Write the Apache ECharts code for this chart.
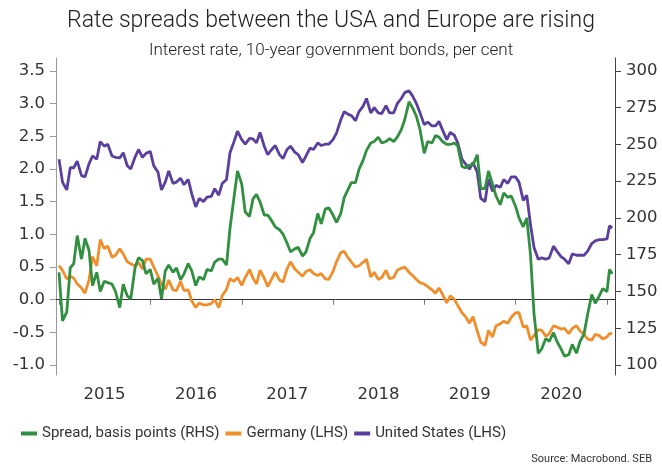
<!DOCTYPE html>
<html>
<head>
<meta charset="utf-8">
<script src="https://cdn.jsdelivr.net/npm/echarts@6/dist/echarts.min.js"></script>
<style>
  html, body { margin: 0; padding: 0; background: #fff; }
  #chart { width: 662px; height: 466px; }
</style>
</head>
<body>
<div id="chart"></div>
<script>
// half-monthly samples (1st and 15th), Jan 2015 - Dec 2020, plus Jan 2021
const yearsSampled = [2015, 2016, 2017, 2018, 2019, 2020];
const tailDates = ['2021-01-01', '2021-01-11', '2021-01-22'];

// 10y US government bond, per cent (LHS)
const unitedStates = [
  2.15, 1.80, 1.68, 2.02, 2.02, 2.12, 1.90, 1.88, 2.08, 2.20, 2.15, 2.42, 2.35, 2.38, 2.20, 2.18, 2.17, 2.25, 2.05, 2.00, 2.18, 2.30, 2.18, 2.24,
  2.27, 2.05, 1.95, 1.68, 1.80, 1.97, 1.78, 1.80, 1.86, 1.76, 1.84, 1.62, 1.42, 1.55, 1.50, 1.57, 1.58, 1.70, 1.60, 1.78, 1.84, 2.25, 2.42, 2.58,
  2.45, 2.38, 2.47, 2.46, 2.40, 2.56, 2.35, 2.22, 2.30, 2.36, 2.22, 2.16, 2.30, 2.35, 2.26, 2.22, 2.10, 2.20, 2.32, 2.30, 2.40, 2.36, 2.38, 2.38,
  2.45, 2.55, 2.75, 2.88, 2.84, 2.82, 2.74, 2.88, 2.96, 3.08, 2.86, 2.94, 2.86, 2.85, 2.97, 2.86, 2.86, 3.00, 3.08, 3.17, 3.20, 3.12, 3.00, 2.86,
  2.68, 2.72, 2.66, 2.66, 2.73, 2.60, 2.45, 2.56, 2.52, 2.40, 2.15, 2.08, 2.00, 2.10, 1.95, 1.55, 1.50, 1.85, 1.66, 1.75, 1.72, 1.84, 1.78, 1.88,
  1.88, 1.80, 1.52, 1.60, 1.15, 0.80, 0.62, 0.64, 0.62, 0.64, 0.82, 0.74, 0.66, 0.62, 0.55, 0.70, 0.68, 0.68, 0.68, 0.74, 0.86, 0.90, 0.92, 0.92,
  0.93, 1.13, 1.10,
];

// 10y German government bond, per cent (LHS)
const germany = [
  0.52, 0.45, 0.32, 0.36, 0.33, 0.24, 0.18, 0.10, 0.30, 0.66, 0.52, 0.92, 0.78, 0.82, 0.65, 0.68, 0.78, 0.70, 0.58, 0.55, 0.52, 0.57, 0.47, 0.62,
  0.62, 0.50, 0.36, 0.24, 0.16, 0.30, 0.15, 0.14, 0.28, 0.14, 0.15, -0.02, -0.12, -0.05, -0.08, -0.08, -0.06, 0.00, -0.12, 0.06, 0.16, 0.32, 0.28, 0.34,
  0.22, 0.34, 0.46, 0.33, 0.24, 0.45, 0.33, 0.20, 0.32, 0.42, 0.30, 0.27, 0.47, 0.58, 0.47, 0.42, 0.36, 0.43, 0.46, 0.40, 0.37, 0.40, 0.32, 0.31,
  0.43, 0.58, 0.72, 0.74, 0.65, 0.58, 0.50, 0.52, 0.57, 0.62, 0.35, 0.42, 0.31, 0.34, 0.45, 0.32, 0.34, 0.45, 0.48, 0.50, 0.42, 0.37, 0.31, 0.26,
  0.24, 0.20, 0.15, 0.10, 0.18, 0.08, -0.05, 0.06, 0.01, -0.09, -0.20, -0.26, -0.36, -0.26, -0.48, -0.65, -0.70, -0.47, -0.57, -0.40, -0.37, -0.33, -0.36, -0.27,
  -0.20, -0.20, -0.42, -0.40, -0.62, -0.55, -0.46, -0.47, -0.56, -0.52, -0.40, -0.42, -0.45, -0.44, -0.52, -0.44, -0.40, -0.48, -0.53, -0.60, -0.62, -0.53, -0.55, -0.60,
  -0.57, -0.52, -0.52,
];

// spread, basis points (RHS)
const spread = [
  163, 130, 136, 166, 169, 188, 172, 186, 178, 154, 163, 150, 157, 156, 155, 150, 139, 155, 147, 145, 166, 173, 171, 162,
  165, 155, 159, 145, 164, 168, 163, 166, 158, 162, 169, 164, 154, 160, 158, 165, 164, 170, 172, 172, 168, 193, 214, 232,
  223, 204, 201, 213, 216, 211, 202, 202, 198, 194, 192, 189, 183, 177, 179, 180, 174, 177, 186, 190, 203, 196, 206, 207,
  202, 197, 203, 214, 219, 224, 224, 233, 239, 246, 251, 252, 255, 251, 252, 254, 252, 255, 260, 267, 279, 275, 269, 260,
  244, 252, 251, 256, 255, 252, 250, 250, 251, 249, 235, 234, 236, 236, 243, 220, 220, 232, 223, 215, 209, 217, 214, 215,
  208, 200, 194, 200, 175, 135, 108, 111, 118, 116, 122, 116, 111, 106, 107, 114, 108, 116, 121, 134, 148, 142, 147, 152,
  150, 165, 162,
];

// axis ticks and labels
const leftTicks = [-1.0, -0.5, 0.0, 0.5, 1.0, 1.5, 2.0, 2.5, 3.0, 3.5];
const rightTicks = [100, 125, 150, 175, 200, 225, 250, 275, 300];
const yearTicks = ['2015-01-01', '2016-01-01', '2017-01-01', '2018-01-01', '2019-01-01', '2020-01-01', '2021-01-01'];
const yearLabels = ['2015-07-02', '2016-07-02', '2017-07-02', '2018-07-02', '2019-07-02', '2020-07-02'];

function buildDates() {
  const out = [];
  yearsSampled.forEach(y => {
    for (let m = 1; m <= 12; m++) {
      const mm = m < 10 ? '0' + m : '' + m;
      out.push(`${y}-${mm}-01`, `${y}-${mm}-15`);
    }
  });
  return out.concat(tailDates);
}

function initChart() {
  const chart = echarts.init(document.getElementById('chart'));
  const ts = d => Date.parse(d + 'T00:00:00Z');
  const dates = buildDates().map(ts);
  const numFont = 'DejaVu Sans';
  const txtFont = 'Roboto';

  const option = {
    animation: false,
    backgroundColor: '#fff',
    title: [
      {
        text: 'Rate spreads between the USA and Europe are rising',
        left: 'center',
        top: 5,
        textStyle: { fontFamily: txtFont, fontSize: 23, fontWeight: 300, color: '#222' },
      },
      {
        text: 'Interest rate, 10-year government bonds, per cent',
        left: 'center',
        top: 37,
        textStyle: { fontFamily: txtFont, fontSize: 17, fontWeight: 300, color: '#222' },
      },
    ],
    grid: { left: 56, right: 47, top: 58, bottom: 91 },
    legend: {
      left: 16,
      top: 421,
      icon: 'rect',
      itemWidth: 16,
      itemHeight: 4,
      itemGap: 6,
      textStyle: { fontFamily: txtFont, fontSize: 15, color: '#333' },
      data: ['Spread, basis points (RHS)', 'Germany (LHS)', 'United States (LHS)'],
    },
    graphic: [
      {
        type: 'text',
        right: 10,
        top: 454,
        style: { text: 'Source: Macrobond. SEB', fontFamily: txtFont, fontSize: 11, fill: '#333' },
      },
    ],
    xAxis: {
      // plain numeric axis over timestamps, so ticks and labels can sit where the reference has them
      type: 'value',
      min: ts('2014-12-20'),
      max: ts('2021-02-02'),
      splitLine: { show: false },
      axisLine: { lineStyle: { color: '#333', width: 1 } },
      axisTick: { show: true, length: 5, lineStyle: { color: '#777' }, customValues: yearTicks.map(ts) },
      axisLabel: {
        customValues: yearLabels.map(ts),
        formatter: v => String(new Date(v).getUTCFullYear()),
        fontFamily: numFont,
        fontSize: 16.5,
        color: '#333',
        margin: 11,
      },
    },
    yAxis: [
      {
        type: 'value',
        position: 'left',
        min: -1.153,
        max: 3.7,
        splitLine: { show: false },
        axisLine: { show: true, lineStyle: { color: '#999' } },
        axisTick: { show: true, length: 6, lineStyle: { color: '#999' }, customValues: leftTicks },
        axisLabel: {
          customValues: leftTicks,
          formatter: v => v.toFixed(1),
          fontFamily: numFont,
          fontSize: 16.5,
          color: '#333',
          margin: 11,
        },
      },
      {
        type: 'value',
        position: 'right',
        min: 93.2,
        max: 308.8,
        splitLine: { show: false },
        axisLine: { show: true, lineStyle: { color: '#444' } },
        axisTick: { show: true, length: 6, lineStyle: { color: '#444' }, customValues: rightTicks },
        axisLabel: {
          customValues: rightTicks,
          fontFamily: numFont,
          fontSize: 16.5,
          color: '#333',
          margin: 11,
        },
      },
    ],
    series: [
      {
        name: 'United States (LHS)',
        type: 'line',
        yAxisIndex: 0,
        showSymbol: false,
        color: '#5b3f9e',
        lineStyle: { width: 2.8, color: '#5b3f9e' },
        data: dates.map((d, i) => [d, unitedStates[i]]),
      },
      {
        name: 'Germany (LHS)',
        type: 'line',
        yAxisIndex: 0,
        showSymbol: false,
        color: '#ef8e2b',
        lineStyle: { width: 2.8, color: '#ef8e2b' },
        data: dates.map((d, i) => [d, germany[i]]),
      },
      {
        name: 'Spread, basis points (RHS)',
        type: 'line',
        yAxisIndex: 1,
        showSymbol: false,
        color: '#30903f',
        lineStyle: { width: 2.8, color: '#30903f' },
        data: dates.map((d, i) => [d, spread[i]]),
      },
    ],
  };

  chart.setOption(option);
  window.addEventListener('resize', () => {
    chart.resize();
  });
}

initChart();
</script>
</body>
</html>
